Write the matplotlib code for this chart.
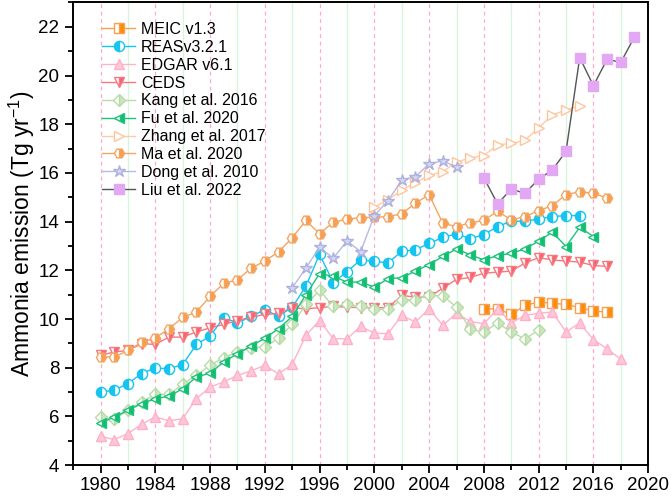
import matplotlib
matplotlib.use("Agg")
import matplotlib.pyplot as plt
from matplotlib.ticker import MultipleLocator

plt.rcParams['font.family'] = ['Liberation Sans', 'DejaVu Sans']
plt.rcParams['mathtext.default'] = 'regular'

# ammonia emission estimates, Tg/yr
meic_years = list(range(2008, 2018))
meic = [10.42, 10.42, 10.19, 10.56, 10.70, 10.65, 10.60, 10.47, 10.33, 10.29]

reas_years = list(range(1980, 2016))
reas = [7.00, 7.08, 7.35, 7.76, 7.99, 7.96, 8.13, 8.96, 9.30, 10.06,
        9.84, 10.11, 10.38, 10.12, 10.48, 11.35, 12.66, 11.50, 11.95, 12.43,
        12.38, 12.30, 12.79, 12.84, 13.11, 13.35, 13.50, 13.30, 13.47, 13.80,
        14.02, 14.02, 14.11, 14.21, 14.25, 14.25]

edgar_years = list(range(1980, 2019))
edgar = [5.19, 5.05, 5.30, 5.68, 5.98, 5.82, 5.91, 6.73, 7.21, 7.42,
         7.69, 7.87, 8.10, 7.75, 8.14, 9.33, 9.94, 9.19, 9.19, 9.70,
         9.42, 9.40, 10.15, 9.88, 10.42, 9.74, 10.24, 9.90, 9.81, 10.42,
         9.84, 10.15, 10.24, 10.29, 9.47, 9.84, 9.15, 8.78, 8.35]

ceds_years = list(range(1980, 2018))
ceds = [8.51, 8.65, 8.71, 8.99, 8.96, 9.26, 9.26, 9.47, 9.64, 9.78,
        9.94, 10.08, 10.19, 10.23, 10.47, 10.42, 10.47, 10.52, 10.49, 10.47,
        10.47, 10.47, 10.97, 10.90, 10.90, 11.27, 11.63, 11.71, 11.88, 11.93,
        11.97, 12.30, 12.52, 12.43, 12.38, 12.34, 12.20, 12.16]

kang_years = list(range(1980, 2013))
kang = [5.96, 5.89, 6.25, 6.60, 6.91, 6.91, 7.32, 7.69, 8.10, 8.42,
        8.65, 8.83, 8.85, 9.22, 9.78, 10.60, 11.18, 10.52, 10.60, 10.52,
        10.40, 10.40, 10.80, 10.79, 10.97, 10.95, 10.49, 9.58, 9.47, 9.84,
        9.47, 9.19, 9.54]

fu_years = list(range(1980, 2017))
fu = [5.73, 5.98, 6.25, 6.53, 6.73, 6.83, 7.14, 7.62, 7.78, 8.24,
      8.58, 8.88, 9.22, 9.60, 10.11, 11.00, 11.87, 11.75, 11.52, 11.52,
      11.31, 11.66, 11.70, 11.97, 12.24, 12.57, 12.88, 12.64, 12.43, 12.61,
      12.70, 12.88, 13.20, 13.57, 12.98, 13.77, 13.39]

zhang_years = list(range(2000, 2016))
zhang = [14.60, 14.90, 15.30, 15.60, 15.90, 16.05, 16.45, 16.62, 16.71, 17.16,
         17.21, 17.35, 17.85, 18.39, 18.58, 18.76]

ma_years = list(range(1980, 2018))
ma = [8.44, 8.44, 8.71, 9.04, 9.23, 9.60, 10.07, 10.29, 10.93, 11.47,
      11.61, 12.09, 12.38, 12.76, 13.34, 14.05, 13.50, 13.98, 14.10, 14.17,
      14.18, 14.21, 14.32, 14.76, 15.11, 13.93, 13.80, 13.95, 14.05, 14.43,
      14.07, 14.21, 14.45, 14.66, 15.11, 15.23, 15.16, 14.98]

dong_years = list(range(1994, 2007))
dong = [11.28, 12.10, 12.94, 12.50, 13.21, 12.77, 14.25, 14.86, 15.71, 15.85,
        16.37, 16.50, 16.24]

liu_years = list(range(2008, 2020))
liu = [15.80, 14.73, 15.34, 15.16, 15.75, 16.12, 16.89, 20.74, 19.58, 20.67,
       20.54, 21.59]

fig = plt.figure(figsize=(6.71, 4.97), dpi=100)
ax = fig.add_axes([0.109, 0.064, 0.857, 0.931])

# vertical guide lines
for yr in range(1980, 2020, 4):
    ax.axvline(yr, color='#FFA8CC', lw=0.9, ls=(0, (3, 3)), zorder=0)
for yr in range(1982, 2020, 4):
    ax.axvline(yr, color='#D6F5DE', lw=0.9, zorder=0)

ms = 7.3
ax.plot(meic_years, meic, color='#F7A050', lw=1.0, marker='s', ms=ms,
        fillstyle='right', mfc='#FF8C00', mfcalt='white', mec='#F7A050',
        label='MEIC v1.3')
ax.plot(reas_years, reas, color='#16C4F0', lw=1.0, marker='o', ms=ms,
        fillstyle='left', mfc='#16C4F0', mfcalt='white', mec='#16C4F0',
        label='REASv3.2.1')
ax.plot(edgar_years, edgar, color='#FFB3CA', lw=1.0, marker='^', ms=ms,
        mfc='#FFC8D8', mec='#FFAFC8', label='EDGAR v6.1')
ax.plot(ceds_years, ceds, color='#F87880', lw=1.0, marker='v', ms=ms,
        fillstyle='right', mfc='#F86070', mfcalt='white', mec='#F87880',
        label='CEDS')
ax.plot(kang_years, kang, color='#B8DCA8', lw=1.0, marker='D', ms=6.2,
        fillstyle='right', mfc='#CDE6C0', mfcalt='white', mec='#B8DCA8',
        label='Kang et al. 2016')
ax.plot(fu_years, fu, color='#1EC27A', lw=1.0, marker='<', ms=ms,
        fillstyle='right', mfc='#10BE70', mfcalt='white', mec='#1EC27A',
        label='Fu et al. 2020')
ax.plot(zhang_years, zhang, color='#FFCBA6', lw=1.0, marker='>', ms=ms,
        mfc='white', mec='#FFC49A', label='Zhang et al. 2017')
ax.plot(ma_years, ma, color='#F5A562', lw=1.0, marker='H', ms=ms,
        fillstyle='right', mfc='#F5A050', mfcalt='white', mec='#F5A562',
        label='Ma et al. 2020')
ax.plot(dong_years, dong, color='#B8BAE2', lw=1.0, marker='*', ms=8.8,
        mfc='#D4D6F2', mec='#AEB0DE', label='Dong et al. 2010')
ax.plot(liu_years, liu, color='#555555', lw=1.0, marker='s', ms=ms,
        mfc='#E2A8F4', mec='#E2A8F4', label='Liu et al. 2022')

ax.set_xlim(1978, 2020)
ax.set_ylim(4, 23)
ax.xaxis.set_major_locator(MultipleLocator(4))
ax.xaxis.set_minor_locator(MultipleLocator(2))
ax.yaxis.set_major_locator(MultipleLocator(2))
ax.yaxis.set_minor_locator(MultipleLocator(1))
ax.tick_params(which='major', direction='out', length=6, width=1.3,
               labelsize=13.5, pad=4)
ax.tick_params(which='minor', direction='out', length=3.5, width=1.3)
ax.tick_params(axis='x', which='major', pad=2.5)
for sp in ax.spines.values():
    sp.set_linewidth(1.4)

ax.set_ylabel('Ammonia emission (Tg yr$^{-1}$)', fontsize=16.5, labelpad=1)

ax.legend(loc='upper left', bbox_to_anchor=(0.05, 0.958), frameon=False,
          fontsize=11.5, handlelength=2.1, handletextpad=0.35, labelspacing=0.18,
          borderaxespad=0, borderpad=0)

fig.savefig('out.png', dpi=100)
